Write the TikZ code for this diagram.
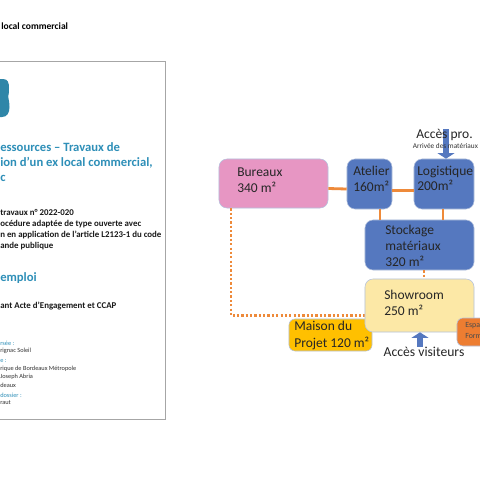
\documentclass[tikz,border=0pt]{standalone}
\usepackage{fontspec}
\setmainfont{Carlito}
\usetikzlibrary{arrows.meta}
\definecolor{tealtitle}{HTML}{2E8FB8}
\definecolor{logoblue}{HTML}{2F86A8}
\definecolor{boxblue}{HTML}{5578BF}
\definecolor{boxpink}{HTML}{E796C3}
\definecolor{boxyellow}{HTML}{FCE8A6}
\definecolor{boxgold}{HTML}{FFC000}
\definecolor{boxorange}{HTML}{ED7D31}
\definecolor{linkorange}{HTML}{EE8A3A}
\definecolor{edgeblue}{HTML}{B4C2DE}
\tikzset{
  room/.style={rectangle, rounded corners=2mm, draw=edgeblue, line width=0.4pt, inner sep=0pt},
  roomtext/.style={anchor=west, align=left, inner sep=0pt, font=\fontsize{9.6}{11.2}\selectfont, text=black!85},
  link/.style={linkorange, line width=2pt},
  dotlink/.style={linkorange, line width=1.9pt, dash pattern=on 1.6pt off 1.5pt},
  blockarrow/.style={boxblue, line width=4.8pt, -{Triangle[length=4pt, width=12pt]}},
  doctitle/.style={anchor=west, inner sep=0pt, font=\fontsize{9}{11}\bfseries\selectfont, text=tealtitle},
  docbody/.style={anchor=west, inner sep=0pt, font=\fontsize{6.3}{7}\bfseries\selectfont, text=black!90},
  dochead/.style={anchor=west, inner sep=0pt, font=\fontsize{4.5}{5}\selectfont, text=tealtitle},
  docsmall/.style={anchor=west, inner sep=0pt, font=\fontsize{4.5}{5}\selectfont, text=black!80},
}
\begin{document}
\begin{tikzpicture}[x=0.025cm, y=-0.025cm]
    \useasboundingbox (0,0) rectangle (480,480);
    \clip (0,0) rectangle (480,480);
    \fill[white] (0,0) rectangle (480,480);

    % Page on the left
    \node[anchor=west, inner sep=0pt, font=\fontsize{6.8}{8}\bfseries\selectfont] (doctop) at (1,26) {local commercial};
    \node[rectangle, draw=black!35, line width=0.5pt, fill=white, minimum width=4.4cm, minimum height=8.95cm, anchor=north east] (docpage) at (166,60.5) {};
    \fill[logoblue] (0,79) -- (3,79) .. controls (8,79) and (9,83) .. (9,88) .. controls (9,92) and (8.6,95) .. (8.2,97) .. controls (8.6,99) and (9.5,103) .. (9.5,107) .. controls (9.5,113) and (7,117) .. (2,117) -- (0,117) -- cycle;

    \node[doctitle] (doct1) at (0,147) {essources – Travaux de};
    \node[doctitle] (doct2) at (0,163) {ion d’un ex local commercial,};
    \node[doctitle] (doct3) at (0,178.5) {c};
    \node[docbody] (docb1) at (0,212.5) {travaux n° 2022-020};
    \node[docbody] (docb2) at (0,224) {océdure adaptée de type ouverte avec};
    \node[docbody] (docb3) at (0,235) {n en application de l’article L2123-1 du code};
    \node[docbody] (docb4) at (0,246) {ande publique};
    \node[doctitle] (docemploi) at (0,278) {emploi};
    \node[docbody] (docb5) at (0,306) {ant Acte d’Engagement et CCAP};

    % Small lines at the foot of the page
    \node[dochead] (docs1) at (0,343) {rsée :};
    \node[docsmall] (docs2) at (0,351) {rignac Soleil};
    \node[dochead] (docs3) at (0,361) {e :};
    \node[docsmall] (docs4) at (0,369) {rique de Bordeaux Métropole};
    \node[docsmall] (docs5) at (0,377) {Joseph Abria};
    \node[docsmall] (docs6) at (0,385) {deaux};
    \node[dochead] (docs7) at (0,395) {dossier :};
    \node[docsmall] (docs8) at (0,403) {raut};

    % Rooms
    \node[room, fill=boxpink, minimum width=2.725cm, minimum height=1.225cm] (bureaux) at (273.5,183.5) {};
    \node[room, fill=boxblue, minimum width=1.125cm, minimum height=1.25cm] (atelier) at (369.5,184) {};
    \node[room, fill=boxblue, minimum width=1.5cm, minimum height=1.25cm] (logistique) at (444,184) {};
    \node[room, fill=boxblue, minimum width=2.725cm, minimum height=1.25cm] (stockage) at (419.5,245) {};
    \node[room, fill=boxgold, rounded corners=1.5mm, minimum width=2.075cm, minimum height=0.8cm] (maison) at (330.5,335) {};

    % Dotted link under the showroom
    \coordinate (corner) at (231,315.7);
    \draw[dotlink] (bureaux.south -| corner) -- (corner) -- (corner -| 365,0);
    \draw[dotlink] ([xshift=0.1125cm]stockage.south) -- ([xshift=0.1125cm]stockage.south |- 0,279);

    \node[room, fill=boxyellow, minimum width=2.725cm, minimum height=1.325cm] (showroom) at (419.5,305.5) {};
    \node[room, fill=boxorange, rounded corners=1.5mm, minimum width=1.25cm, minimum height=0.7cm] (espace) at (482,332) {};

    % Links
    \draw[link] ([yshift=-0.125cm]bureaux.east) -- ([yshift=-0.125cm]atelier.west);
    \draw[link] ([yshift=-0.17cm]atelier.east) -- ([yshift=-0.17cm]logistique.west);
    \draw[link] ([xshift=0.2625cm]atelier.south) -- ([xshift=0.2625cm]atelier.south |- stockage.north);
    \draw[link] ([xshift=-0.025cm]logistique.south) -- ([xshift=-0.025cm]logistique.south |- stockage.north);

    % Access arrows
    \coordinate (accesfrom) at (446,129);
    \draw[blockarrow] (accesfrom) -- (accesfrom |- logistique.north);
    \node[anchor=center, inner sep=0pt, font=\fontsize{9.7}{12}\selectfont, text=black!85] (accesvisit) at (424,352) {Accès visiteurs};
    \draw[blockarrow] ([xshift=-0.1cm]accesvisit.north) -- ([xshift=-0.1cm]accesvisit.north |- showroom.south);

    % Room names
    \node[roomtext] (bureauxtxt) at (237,180.5) {Bureaux\\340 m²};
    \node[roomtext] (ateliertxt) at (353,178.5) {Atelier\\160m²};
    \node[roomtext] (logistxt) at (417,178.5) {Logistique\\200m²};
    \node[roomtext, font=\fontsize{9.6}{11.6}\selectfont] (stocktxt) at (385,246) {Stockage\\matériaux\\320 m²};
    \node[roomtext] (showtxt) at (384,302.5) {Showroom\\250 m²};
    \node[roomtext, font=\fontsize{9.6}{12}\selectfont] (maisontxt) at (294,335.5) {Maison du\\Projet 120 m²};
    \node[roomtext, font=\fontsize{5.6}{8}\selectfont, text=black!70] (espacetxt) at (465,330.5) {Espa\\Form};

    % Labels over the top arrow
    \node[anchor=west, inner sep=0pt, font=\fontsize{9.6}{12}\selectfont, text=black!85] (accespro) at (416,135) {Accès pro.};
    \node[anchor=west, inner sep=0pt, font=\fontsize{5.2}{6}\selectfont, text=black!80] (arrivee) at (412.5,146) {Arrivée des matériaux};
\end{tikzpicture}
\end{document}
